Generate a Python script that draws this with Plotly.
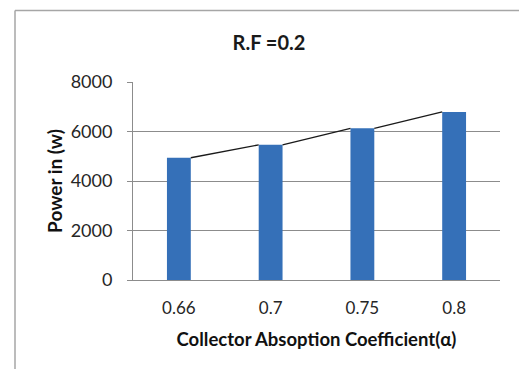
import plotly.graph_objects as go

categories = ["0.66", "0.7", "0.75", "0.8"]
power = [4940, 5460, 6130, 6790]
y_ticks = [0, 2000, 4000, 6000, 8000]

title_text = "R.F =0.2"
x_title = "Collector Absoption Coefficient(α)"
y_title = "Power in (w)"

BAR_W = 0.26
idx = list(range(len(categories)))

# series lines: right edge of bar i to left edge of bar i+1
lx, ly = [], []
for i in range(len(power) - 1):
    lx += [idx[i] + BAR_W / 2, idx[i + 1] - BAR_W / 2, None]
    ly += [power[i], power[i + 1], None]

fig = go.Figure()
fig.add_trace(go.Bar(
    x=idx, y=power, width=BAR_W,
    marker=dict(color="#3570B8", line=dict(width=0)),
))
fig.add_trace(go.Scatter(
    x=lx, y=ly, mode="lines",
    line=dict(color="#1a1a1a", width=1.3),
    hoverinfo="skip",
))

FONT = "Lato, 'Open Sans', sans-serif"
fig.update_layout(
    width=519, height=369,
    margin=dict(l=133, r=19, t=82, b=89),
    paper_bgcolor="white", plot_bgcolor="white",
    showlegend=False,
    font=dict(family=FONT, color="#262626"),
    title=dict(text="<b>" + title_text + "</b>", x=269 / 519, xanchor="center",
               y=1 - 43 / 369, yanchor="middle",
               font=dict(size=20, color="#1a1a1a", family=FONT)),
    shapes=[
        dict(type="line", xref="paper", yref="paper",
             x0=(15 - 133) / 367, x1=(15 - 133) / 367,
             y0=(280 - 10.5) / 198, y1=(280 - 380) / 198,
             line=dict(color="#A6A6A6", width=1.5)),
        dict(type="line", xref="paper", yref="paper",
             x0=(15 - 133) / 367, x1=(540 - 133) / 367,
             y0=(280 - 10.5) / 198, y1=(280 - 10.5) / 198,
             line=dict(color="#A6A6A6", width=1.5)),
    ],
)
fig.update_xaxes(
    range=[-0.5, 3.5], tickvals=idx, ticktext=categories,
    showgrid=False, zeroline=False,
    showline=True, linecolor="#8C8C8C", linewidth=1,
    ticks="", ticklabelstandoff=13, tickfont=dict(size=17, color="#262626"),
    title=dict(text="<b>" + x_title + "</b>", font=dict(size=18.5, color="#111"), standoff=15),
)
fig.update_yaxes(
    range=[0, 8000], tickvals=y_ticks,
    showgrid=True, gridcolor="#8C8C8C", gridwidth=1,
    zeroline=False,
    showline=True, linecolor="#8C8C8C", linewidth=1,
    ticks="outside", ticklen=5, tickcolor="#8C8C8C",
    ticklabelstandoff=11,
    tickfont=dict(size=18, color="#262626"),
    title=dict(text="<b>" + y_title + "</b>", font=dict(size=19, color="#111"), standoff=2),
)

fig.write_html("out.html")
